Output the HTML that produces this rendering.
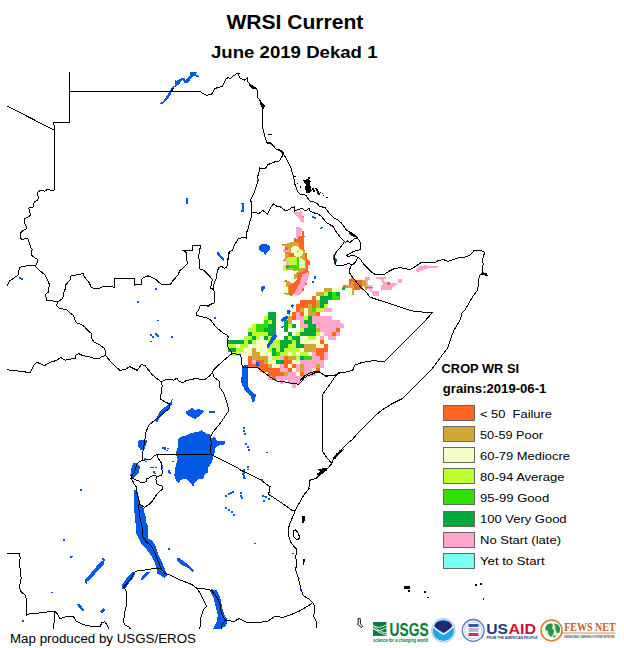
<!DOCTYPE html>
<html><head><meta charset="utf-8"><style>
html,body{margin:0;padding:0;background:#fff;}
body{width:624px;height:648px;position:relative;overflow:hidden;font-family:"Liberation Sans",sans-serif;color:#000;}
.t{position:absolute;white-space:nowrap;}
.box{position:absolute;left:443px;width:30px;height:14px;border:1px solid #686868;}
.lab{position:absolute;left:480px;font-size:12.5px;letter-spacing:0.6px;white-space:nowrap;line-height:16px;}
svg{position:absolute;left:0;top:0;}
</style></head><body>
<svg width="624" height="648" viewBox="0 0 624 648">
<defs><clipPath id="c"><rect x="7" y="71" width="617" height="558"/></clipPath></defs>
<g clip-path="url(#c)" shape-rendering="crispEdges">
<path d="M294.1,212.4 L296.0,212.0 L301.8,211.1 L302.1,216.5 L303.7,216.9 L304.0,222.6 L300.5,222.3 L299.9,219.7 L299.2,218.5 L296.3,215.3 L294.4,213.7Z" fill="#ffa5ce"/>
<path d="M302.1,215.9 L304.0,215.9 L304.0,217.2 L302.1,217.2Z" fill="#ff6420"/>
<path d="M296.0,227.1 L302.1,227.8 L302.1,231.0 L299.2,237.7 L296.7,238.3 L296.0,237.0Z" fill="#ffa5ce"/>
<path d="M302.1,230.6 L304.0,230.6 L304.0,235.8 L305.0,236.7 L304.0,238.3 L304.0,245.0 L299.2,245.0 L298.9,242.2 L297.0,242.2 L297.0,243.5 L294.7,243.5 L294.1,238.3 L297.0,238.7 L299.2,236.4 L302.1,235.8Z" fill="#ff6420"/>
<path d="M282.1,244.5 L287.8,244.2 L291.0,242.2 L293.9,241.9 L293.9,240.0 L303.8,240.0 L303.8,249.0 L305.1,250.3 L305.1,253.1 L306.7,253.1 L307.0,258.3 L309.9,261.2 L309.9,265.0 L307.7,265.6 L307.7,269.5 L309.7,273.0 L307.7,279.4 L306.9,283.4 L304.5,286.6 L303.7,290.6 L299.6,294.6 L298.0,295.8 L294.0,293.8 L291.6,295.8 L289.2,295.4 L286.0,294.6 L283.2,293.0 L283.2,281.8 L286.0,280.2 L290.8,282.6 L293.2,283.4 L296.4,280.2 L297.6,277.0 L296.0,274.0 L298.8,271.0 L294.0,270.6 L286.0,270.0 L283.2,270.6 L283.0,261.2 L285.3,258.0 L285.3,252.8 L283.0,251.5 L283.0,249.9 L285.3,249.0 L284.6,246.4 L282.1,245.4Z" fill="#ff6420"/>
<path d="M286.2,243.8 L291.0,242.2 L296.8,242.2 L299.0,243.8 L299.7,248.3 L303.2,249.3 L304.8,251.2 L304.8,258.6 L306.4,260.5 L306.4,268.2 L305.1,270.1 L300.6,270.1 L299.4,272.0 L297.1,274.6 L294.2,278.5 L296.8,274.6 L298.1,270.8 L294.2,270.8 L285.3,268.8 L285.3,253.5 L288.8,252.8 L287.8,248.3 L286.2,246.4Z" fill="#d0a834"/>
<path d="M291.0,248.3 L293.6,246.1 L296.8,245.8 L299.0,247.1 L299.7,249.6 L301.9,250.6 L303.2,252.2 L301.9,255.7 L300.0,256.0 L299.4,257.9 L303.2,259.2 L304.8,261.2 L304.8,267.6 L303.2,268.8 L299.4,268.8 L299.0,257.9 L297.1,256.7 L294.2,256.0 L294.2,253.8 L291.0,252.8Z" fill="#f5ffc5"/>
<path d="M289.1,252.8 L293.6,252.8 L293.6,256.7 L289.1,256.7Z" fill="#ff6420"/>
<path d="M297.1,250.3 L299.0,250.3 L299.0,252.5 L297.1,252.5Z" fill="#beff32"/>
<path d="M285.9,259.2 L288.5,257.0 L296.8,257.0 L297.1,265.0 L285.6,265.3Z" fill="#beff32"/>
<path d="M285.6,265.3 L298.7,265.3 L298.7,268.5 L295.5,268.8 L295.5,270.4 L294.2,270.4 L294.2,268.2 L285.6,268.2Z" fill="#32e000"/>
<path d="M296.8,257.0 L298.8,257.0 L298.8,265.0 L296.8,265.0Z" fill="#32e000"/>
<path d="M286.2,265.6 L288.8,265.6 L288.8,268.2 L286.2,268.2Z" fill="#00aa3a"/>
<path d="M283.0,261.2 L285.9,261.2 L285.6,270.1 L283.0,270.1Z" fill="#f5ffc5"/>
<path d="M283.2,265.0 L286.0,265.0 L286.0,270.6 L283.2,270.6Z" fill="#beff32"/>
<path d="M285.9,261.2 L288.8,261.2 L288.8,264.7 L285.9,264.7Z" fill="#ffa5ce"/>
<path d="M282.4,244.5 L285.9,244.5 L285.9,246.4 L282.4,246.4Z" fill="#ffa5ce"/>
<path d="M283.0,250.3 L288.8,250.3 L288.8,251.9 L283.0,251.9Z" fill="#ffa5ce"/>
<path d="M302.1,274.6 L307.7,272.2 L309.7,273.0 L307.7,279.4 L306.9,283.4 L304.5,286.6 L303.7,290.6 L299.6,294.6 L298.0,295.8 L294.0,293.8 L296.4,289.0 L299.6,283.4Z" fill="#ffa5ce"/>
<path d="M286.0,280.2 L288.4,281.8 L290.8,282.6 L293.2,283.4 L288.4,285.8 L289.2,295.4 L286.0,294.6 L285.6,289.0 L286.0,285.0Z" fill="#d0a834"/>
<path d="M299.2,268.2 L305.3,268.2 L305.3,270.0 L302.0,271.8 L299.2,271.8Z" fill="#d0a834"/>
<path d="M294.0,273.8 L298.0,273.8 L297.0,276.5 L296.0,278.6 L294.5,278.6Z" fill="#d0a834"/>
<path d="M283.2,281.8 L286.0,281.5 L286.0,287.0 L288.4,287.0 L288.4,293.0 L283.2,293.0Z" fill="#f5ffc5"/>
<path d="M304.5,283.0 L306.9,283.0 L306.9,284.6 L304.5,284.6Z" fill="#ff6420"/>
<path d="M302.0,288.2 L303.7,288.2 L303.7,290.6 L302.0,290.6Z" fill="#ff6420"/>
<path d="M299.2,265.0 L305.3,265.0 L305.3,268.2 L299.2,268.2Z" fill="#f5ffc5"/>
<path d="M349.1,279.0 L352.3,278.3 L354.9,280.3 L361.9,280.3 L361.9,288.0 L359.4,289.9 L353.6,289.9 L353.6,288.0 L346.2,288.0 L342.1,287.6 L343.3,285.1 L346.2,285.1 L349.1,284.7Z" fill="#ff6420"/>
<path d="M346.2,285.1 L350.7,285.1 L350.7,282.2 L353.6,282.2 L353.6,283.5 L352.3,284.1 L353.6,286.0 L353.6,295.0 L352.3,295.0 L352.3,288.0 L346.2,288.0Z" fill="#d0a834"/>
<path d="M361.9,279.6 L367.0,279.6 L367.7,289.2 L365.1,289.9 L364.5,286.7 L362.6,286.0 L361.9,282.8Z" fill="#d0a834"/>
<path d="M347.8,288.0 L352.3,288.0 L352.3,295.0 L348.5,295.0Z" fill="#f5ffc5"/>
<path d="M364.5,276.4 L369.6,277.1 L369.9,279.6 L367.7,280.3 L368.3,284.7 L371.5,285.4 L372.8,287.9 L372.2,291.2 L374.1,293.1 L375.0,294.4 L373.5,295.6 L371.5,291.8 L368.3,289.2 L367.7,289.2Z" fill="#ffa5ce"/>
<path d="M365.0,286.7 L372.8,286.7 L372.8,288.0 L365.0,288.0Z" fill="#ff6420"/>
<path d="M342.0,288.3 L344.6,288.3 L344.6,289.6 L342.0,289.6Z" fill="#00aa3a"/>
<path d="M376.2,277.2 L385.8,277.2 L385.8,278.8 L383.9,279.1 L383.9,281.7 L386.8,282.0 L390.0,283.0 L396.7,283.3 L396.7,284.6 L394.5,286.2 L391.9,287.5 L391.9,289.7 L382.9,290.0 L381.0,290.7 L381.0,285.5 L383.3,284.3 L381.0,280.4 L379.1,278.8 L376.2,278.5Z" fill="#ffa5ce"/>
<path d="M387.1,282.3 L389.7,282.3 L389.7,284.6 L387.1,284.6Z" fill="#ff6420"/>
<path d="M398.0,279.1 L401.9,279.1 L401.9,282.7 L398.0,282.7Z" fill="#ffa5ce"/>
<path d="M373.3,291.3 L378.8,291.3 L378.8,295.5 L373.3,295.5Z" fill="#ffa5ce"/>
<path d="M416.0,269.5 L419.0,266.5 L425.0,265.3 L437.7,266.5 L437.7,268.0 L428.0,268.5 L422.0,270.5 L417.0,271.7Z" fill="#ffa5ce"/>
<path d="M417.0,268.0 L420.0,268.0 L420.0,271.5 L417.0,271.5Z" fill="#ffa5ce"/>
<path d="M340.0,322.8 L342.0,322.8 L342.0,327.3 L340.0,327.3Z" fill="#ffa5ce"/>
<rect x="324" y="288" width="4" height="4" fill="#d0a834"/>
<rect x="328" y="288" width="4" height="4" fill="#d0a834"/>
<rect x="332" y="288" width="4" height="4" fill="#f5ffc5"/>
<rect x="336" y="288" width="4" height="4" fill="#f5ffc5"/>
<rect x="316" y="292" width="4" height="4" fill="#d0a834"/>
<rect x="320" y="292" width="4" height="4" fill="#d0a834"/>
<rect x="324" y="292" width="4" height="4" fill="#beff32"/>
<rect x="328" y="292" width="4" height="4" fill="#00aa3a"/>
<rect x="332" y="292" width="4" height="4" fill="#32e000"/>
<rect x="336" y="292" width="4" height="4" fill="#00aa3a"/>
<rect x="312" y="296" width="4" height="4" fill="#ff6420"/>
<rect x="316" y="296" width="4" height="4" fill="#f5ffc5"/>
<rect x="320" y="296" width="4" height="4" fill="#00aa3a"/>
<rect x="324" y="296" width="4" height="4" fill="#00aa3a"/>
<rect x="328" y="296" width="4" height="4" fill="#00aa3a"/>
<rect x="332" y="296" width="4" height="4" fill="#32e000"/>
<rect x="336" y="296" width="4" height="4" fill="#32e000"/>
<rect x="300" y="300" width="4" height="4" fill="#ff6420"/>
<rect x="304" y="300" width="4" height="4" fill="#ff6420"/>
<rect x="308" y="300" width="4" height="4" fill="#ff6420"/>
<rect x="312" y="300" width="4" height="4" fill="#ff6420"/>
<rect x="316" y="300" width="4" height="4" fill="#d0a834"/>
<rect x="320" y="300" width="4" height="4" fill="#00aa3a"/>
<rect x="324" y="300" width="4" height="4" fill="#00aa3a"/>
<rect x="296" y="304" width="4" height="4" fill="#ff6420"/>
<rect x="300" y="304" width="4" height="4" fill="#ff6420"/>
<rect x="304" y="304" width="4" height="4" fill="#ff6420"/>
<rect x="308" y="304" width="4" height="4" fill="#d0a834"/>
<rect x="312" y="304" width="4" height="4" fill="#ff6420"/>
<rect x="316" y="304" width="4" height="4" fill="#d0a834"/>
<rect x="320" y="304" width="4" height="4" fill="#00aa3a"/>
<rect x="324" y="304" width="4" height="4" fill="#beff32"/>
<rect x="296" y="308" width="4" height="4" fill="#ff6420"/>
<rect x="300" y="308" width="4" height="4" fill="#d0a834"/>
<rect x="304" y="308" width="4" height="4" fill="#f5ffc5"/>
<rect x="308" y="308" width="4" height="4" fill="#d0a834"/>
<rect x="312" y="308" width="4" height="4" fill="#32e000"/>
<rect x="316" y="308" width="4" height="4" fill="#beff32"/>
<rect x="320" y="308" width="4" height="4" fill="#beff32"/>
<rect x="324" y="308" width="4" height="4" fill="#ffa5ce"/>
<rect x="328" y="308" width="4" height="4" fill="#ffa5ce"/>
<rect x="268" y="312" width="4" height="4" fill="#00aa3a"/>
<rect x="272" y="312" width="4" height="4" fill="#00aa3a"/>
<rect x="292" y="312" width="4" height="4" fill="#ff6420"/>
<rect x="296" y="312" width="4" height="4" fill="#ffa5ce"/>
<rect x="300" y="312" width="4" height="4" fill="#ff6420"/>
<rect x="304" y="312" width="4" height="4" fill="#f5ffc5"/>
<rect x="308" y="312" width="4" height="4" fill="#d0a834"/>
<rect x="312" y="312" width="4" height="4" fill="#d0a834"/>
<rect x="316" y="312" width="4" height="4" fill="#ff6420"/>
<rect x="264" y="316" width="4" height="4" fill="#beff32"/>
<rect x="268" y="316" width="4" height="4" fill="#00aa3a"/>
<rect x="272" y="316" width="4" height="4" fill="#00aa3a"/>
<rect x="288" y="316" width="4" height="4" fill="#d0a834"/>
<rect x="292" y="316" width="4" height="4" fill="#ff6420"/>
<rect x="296" y="316" width="4" height="4" fill="#ffa5ce"/>
<rect x="300" y="316" width="4" height="4" fill="#ffa5ce"/>
<rect x="304" y="316" width="4" height="4" fill="#beff32"/>
<rect x="308" y="316" width="4" height="4" fill="#00aa3a"/>
<rect x="312" y="316" width="4" height="4" fill="#ffa5ce"/>
<rect x="316" y="316" width="4" height="4" fill="#ffa5ce"/>
<rect x="320" y="316" width="4" height="4" fill="#ffa5ce"/>
<rect x="324" y="316" width="4" height="4" fill="#ffa5ce"/>
<rect x="328" y="316" width="4" height="4" fill="#ffa5ce"/>
<rect x="264" y="320" width="4" height="4" fill="#32e000"/>
<rect x="268" y="320" width="4" height="4" fill="#beff32"/>
<rect x="272" y="320" width="4" height="4" fill="#00aa3a"/>
<rect x="284" y="320" width="4" height="4" fill="#00aa3a"/>
<rect x="288" y="320" width="4" height="4" fill="#d0a834"/>
<rect x="300" y="320" width="4" height="4" fill="#ffa5ce"/>
<rect x="304" y="320" width="4" height="4" fill="#00aa3a"/>
<rect x="308" y="320" width="4" height="4" fill="#00aa3a"/>
<rect x="312" y="320" width="4" height="4" fill="#ffa5ce"/>
<rect x="316" y="320" width="4" height="4" fill="#ffa5ce"/>
<rect x="320" y="320" width="4" height="4" fill="#ffa5ce"/>
<rect x="324" y="320" width="4" height="4" fill="#ffa5ce"/>
<rect x="328" y="320" width="4" height="4" fill="#ffa5ce"/>
<rect x="332" y="320" width="4" height="4" fill="#ffa5ce"/>
<rect x="336" y="320" width="4" height="4" fill="#ffa5ce"/>
<rect x="252" y="324" width="4" height="4" fill="#beff32"/>
<rect x="256" y="324" width="4" height="4" fill="#32e000"/>
<rect x="260" y="324" width="4" height="4" fill="#32e000"/>
<rect x="264" y="324" width="4" height="4" fill="#32e000"/>
<rect x="268" y="324" width="4" height="4" fill="#00aa3a"/>
<rect x="272" y="324" width="4" height="4" fill="#00aa3a"/>
<rect x="284" y="324" width="4" height="4" fill="#00aa3a"/>
<rect x="288" y="324" width="4" height="4" fill="#beff32"/>
<rect x="292" y="324" width="4" height="4" fill="#00aa3a"/>
<rect x="300" y="324" width="4" height="4" fill="#ffa5ce"/>
<rect x="304" y="324" width="4" height="4" fill="#ffa5ce"/>
<rect x="308" y="324" width="4" height="4" fill="#00aa3a"/>
<rect x="312" y="324" width="4" height="4" fill="#00aa3a"/>
<rect x="316" y="324" width="4" height="4" fill="#ffa5ce"/>
<rect x="320" y="324" width="4" height="4" fill="#ffa5ce"/>
<rect x="324" y="324" width="4" height="4" fill="#ffa5ce"/>
<rect x="328" y="324" width="4" height="4" fill="#ffa5ce"/>
<rect x="332" y="324" width="4" height="4" fill="#ffa5ce"/>
<rect x="336" y="324" width="4" height="4" fill="#ffa5ce"/>
<rect x="340" y="324" width="4" height="4" fill="#ffa5ce"/>
<rect x="248" y="328" width="4" height="4" fill="#beff32"/>
<rect x="252" y="328" width="4" height="4" fill="#beff32"/>
<rect x="256" y="328" width="4" height="4" fill="#32e000"/>
<rect x="260" y="328" width="4" height="4" fill="#32e000"/>
<rect x="264" y="328" width="4" height="4" fill="#00aa3a"/>
<rect x="268" y="328" width="4" height="4" fill="#00aa3a"/>
<rect x="272" y="328" width="4" height="4" fill="#00aa3a"/>
<rect x="284" y="328" width="4" height="4" fill="#00aa3a"/>
<rect x="300" y="328" width="4" height="4" fill="#beff32"/>
<rect x="304" y="328" width="4" height="4" fill="#00aa3a"/>
<rect x="308" y="328" width="4" height="4" fill="#00aa3a"/>
<rect x="312" y="328" width="4" height="4" fill="#00aa3a"/>
<rect x="316" y="328" width="4" height="4" fill="#d0a834"/>
<rect x="320" y="328" width="4" height="4" fill="#ffa5ce"/>
<rect x="324" y="328" width="4" height="4" fill="#ffa5ce"/>
<rect x="328" y="328" width="4" height="4" fill="#ffa5ce"/>
<rect x="332" y="328" width="4" height="4" fill="#ffa5ce"/>
<rect x="336" y="328" width="4" height="4" fill="#ff6420"/>
<rect x="248" y="332" width="4" height="4" fill="#00aa3a"/>
<rect x="252" y="332" width="4" height="4" fill="#beff32"/>
<rect x="256" y="332" width="4" height="4" fill="#beff32"/>
<rect x="260" y="332" width="4" height="4" fill="#beff32"/>
<rect x="264" y="332" width="4" height="4" fill="#beff32"/>
<rect x="268" y="332" width="4" height="4" fill="#00aa3a"/>
<rect x="272" y="332" width="4" height="4" fill="#00aa3a"/>
<rect x="288" y="332" width="4" height="4" fill="#00aa3a"/>
<rect x="292" y="332" width="4" height="4" fill="#f5ffc5"/>
<rect x="296" y="332" width="4" height="4" fill="#beff32"/>
<rect x="300" y="332" width="4" height="4" fill="#00aa3a"/>
<rect x="304" y="332" width="4" height="4" fill="#00aa3a"/>
<rect x="308" y="332" width="4" height="4" fill="#00aa3a"/>
<rect x="312" y="332" width="4" height="4" fill="#00aa3a"/>
<rect x="316" y="332" width="4" height="4" fill="#beff32"/>
<rect x="320" y="332" width="4" height="4" fill="#f5ffc5"/>
<rect x="324" y="332" width="4" height="4" fill="#ffa5ce"/>
<rect x="328" y="332" width="4" height="4" fill="#ffa5ce"/>
<rect x="332" y="332" width="4" height="4" fill="#ff6420"/>
<rect x="336" y="332" width="4" height="4" fill="#ffa5ce"/>
<rect x="244" y="336" width="4" height="4" fill="#beff32"/>
<rect x="248" y="336" width="4" height="4" fill="#beff32"/>
<rect x="252" y="336" width="4" height="4" fill="#00aa3a"/>
<rect x="256" y="336" width="4" height="4" fill="#beff32"/>
<rect x="260" y="336" width="4" height="4" fill="#f5ffc5"/>
<rect x="264" y="336" width="4" height="4" fill="#00aa3a"/>
<rect x="268" y="336" width="4" height="4" fill="#beff32"/>
<rect x="272" y="336" width="4" height="4" fill="#beff32"/>
<rect x="284" y="336" width="4" height="4" fill="#00aa3a"/>
<rect x="288" y="336" width="4" height="4" fill="#beff32"/>
<rect x="292" y="336" width="4" height="4" fill="#00aa3a"/>
<rect x="296" y="336" width="4" height="4" fill="#00aa3a"/>
<rect x="300" y="336" width="4" height="4" fill="#f5ffc5"/>
<rect x="304" y="336" width="4" height="4" fill="#f5ffc5"/>
<rect x="308" y="336" width="4" height="4" fill="#beff32"/>
<rect x="312" y="336" width="4" height="4" fill="#beff32"/>
<rect x="316" y="336" width="4" height="4" fill="#f5ffc5"/>
<rect x="320" y="336" width="4" height="4" fill="#ffa5ce"/>
<rect x="328" y="336" width="4" height="4" fill="#ffa5ce"/>
<rect x="332" y="336" width="4" height="4" fill="#ffa5ce"/>
<rect x="228" y="340" width="4" height="4" fill="#00aa3a"/>
<rect x="232" y="340" width="4" height="4" fill="#00aa3a"/>
<rect x="236" y="340" width="4" height="4" fill="#00aa3a"/>
<rect x="240" y="340" width="4" height="4" fill="#00aa3a"/>
<rect x="244" y="340" width="4" height="4" fill="#beff32"/>
<rect x="248" y="340" width="4" height="4" fill="#00aa3a"/>
<rect x="252" y="340" width="4" height="4" fill="#beff32"/>
<rect x="256" y="340" width="4" height="4" fill="#f5ffc5"/>
<rect x="260" y="340" width="4" height="4" fill="#f5ffc5"/>
<rect x="264" y="340" width="4" height="4" fill="#f5ffc5"/>
<rect x="268" y="340" width="4" height="4" fill="#beff32"/>
<rect x="272" y="340" width="4" height="4" fill="#beff32"/>
<rect x="276" y="340" width="4" height="4" fill="#beff32"/>
<rect x="280" y="340" width="4" height="4" fill="#00aa3a"/>
<rect x="284" y="340" width="4" height="4" fill="#00aa3a"/>
<rect x="288" y="340" width="4" height="4" fill="#00aa3a"/>
<rect x="292" y="340" width="4" height="4" fill="#beff32"/>
<rect x="296" y="340" width="4" height="4" fill="#00aa3a"/>
<rect x="300" y="340" width="4" height="4" fill="#f5ffc5"/>
<rect x="304" y="340" width="4" height="4" fill="#f5ffc5"/>
<rect x="308" y="340" width="4" height="4" fill="#f5ffc5"/>
<rect x="312" y="340" width="4" height="4" fill="#f5ffc5"/>
<rect x="316" y="340" width="4" height="4" fill="#f5ffc5"/>
<rect x="320" y="340" width="4" height="4" fill="#ff6420"/>
<rect x="228" y="344" width="4" height="4" fill="#beff32"/>
<rect x="232" y="344" width="4" height="4" fill="#beff32"/>
<rect x="236" y="344" width="4" height="4" fill="#f5ffc5"/>
<rect x="240" y="344" width="4" height="4" fill="#beff32"/>
<rect x="244" y="344" width="4" height="4" fill="#beff32"/>
<rect x="248" y="344" width="4" height="4" fill="#f5ffc5"/>
<rect x="252" y="344" width="4" height="4" fill="#f5ffc5"/>
<rect x="256" y="344" width="4" height="4" fill="#f5ffc5"/>
<rect x="260" y="344" width="4" height="4" fill="#f5ffc5"/>
<rect x="264" y="344" width="4" height="4" fill="#f5ffc5"/>
<rect x="268" y="344" width="4" height="4" fill="#beff32"/>
<rect x="272" y="344" width="4" height="4" fill="#beff32"/>
<rect x="276" y="344" width="4" height="4" fill="#beff32"/>
<rect x="280" y="344" width="4" height="4" fill="#00aa3a"/>
<rect x="284" y="344" width="4" height="4" fill="#00aa3a"/>
<rect x="288" y="344" width="4" height="4" fill="#beff32"/>
<rect x="292" y="344" width="4" height="4" fill="#beff32"/>
<rect x="296" y="344" width="4" height="4" fill="#00aa3a"/>
<rect x="300" y="344" width="4" height="4" fill="#00aa3a"/>
<rect x="304" y="344" width="4" height="4" fill="#d0a834"/>
<rect x="308" y="344" width="4" height="4" fill="#d0a834"/>
<rect x="312" y="344" width="4" height="4" fill="#d0a834"/>
<rect x="316" y="344" width="4" height="4" fill="#f5ffc5"/>
<rect x="320" y="344" width="4" height="4" fill="#f5ffc5"/>
<rect x="324" y="344" width="4" height="4" fill="#ff6420"/>
<rect x="228" y="348" width="4" height="4" fill="#00aa3a"/>
<rect x="232" y="348" width="4" height="4" fill="#00aa3a"/>
<rect x="236" y="348" width="4" height="4" fill="#beff32"/>
<rect x="240" y="348" width="4" height="4" fill="#beff32"/>
<rect x="244" y="348" width="4" height="4" fill="#f5ffc5"/>
<rect x="248" y="348" width="4" height="4" fill="#f5ffc5"/>
<rect x="252" y="348" width="4" height="4" fill="#d0a834"/>
<rect x="256" y="348" width="4" height="4" fill="#f5ffc5"/>
<rect x="260" y="348" width="4" height="4" fill="#f5ffc5"/>
<rect x="264" y="348" width="4" height="4" fill="#f5ffc5"/>
<rect x="268" y="348" width="4" height="4" fill="#beff32"/>
<rect x="272" y="348" width="4" height="4" fill="#00aa3a"/>
<rect x="276" y="348" width="4" height="4" fill="#beff32"/>
<rect x="280" y="348" width="4" height="4" fill="#00aa3a"/>
<rect x="284" y="348" width="4" height="4" fill="#beff32"/>
<rect x="288" y="348" width="4" height="4" fill="#beff32"/>
<rect x="292" y="348" width="4" height="4" fill="#beff32"/>
<rect x="296" y="348" width="4" height="4" fill="#beff32"/>
<rect x="300" y="348" width="4" height="4" fill="#f5ffc5"/>
<rect x="304" y="348" width="4" height="4" fill="#d0a834"/>
<rect x="308" y="348" width="4" height="4" fill="#d0a834"/>
<rect x="312" y="348" width="4" height="4" fill="#d0a834"/>
<rect x="316" y="348" width="4" height="4" fill="#ff6420"/>
<rect x="320" y="348" width="4" height="4" fill="#ff6420"/>
<rect x="324" y="348" width="4" height="4" fill="#ff6420"/>
<rect x="232" y="352" width="4" height="4" fill="#beff32"/>
<rect x="236" y="352" width="4" height="4" fill="#beff32"/>
<rect x="240" y="352" width="4" height="4" fill="#f5ffc5"/>
<rect x="244" y="352" width="4" height="4" fill="#f5ffc5"/>
<rect x="248" y="352" width="4" height="4" fill="#f5ffc5"/>
<rect x="252" y="352" width="4" height="4" fill="#d0a834"/>
<rect x="256" y="352" width="4" height="4" fill="#d0a834"/>
<rect x="260" y="352" width="4" height="4" fill="#f5ffc5"/>
<rect x="264" y="352" width="4" height="4" fill="#f5ffc5"/>
<rect x="268" y="352" width="4" height="4" fill="#f5ffc5"/>
<rect x="272" y="352" width="4" height="4" fill="#00aa3a"/>
<rect x="276" y="352" width="4" height="4" fill="#32e000"/>
<rect x="280" y="352" width="4" height="4" fill="#beff32"/>
<rect x="284" y="352" width="4" height="4" fill="#beff32"/>
<rect x="288" y="352" width="4" height="4" fill="#f5ffc5"/>
<rect x="292" y="352" width="4" height="4" fill="#beff32"/>
<rect x="296" y="352" width="4" height="4" fill="#f5ffc5"/>
<rect x="300" y="352" width="4" height="4" fill="#beff32"/>
<rect x="304" y="352" width="4" height="4" fill="#beff32"/>
<rect x="308" y="352" width="4" height="4" fill="#f5ffc5"/>
<rect x="312" y="352" width="4" height="4" fill="#ffa5ce"/>
<rect x="316" y="352" width="4" height="4" fill="#ff6420"/>
<rect x="320" y="352" width="4" height="4" fill="#ff6420"/>
<rect x="324" y="352" width="4" height="4" fill="#ffa5ce"/>
<rect x="248" y="356" width="4" height="4" fill="#ff6420"/>
<rect x="252" y="356" width="4" height="4" fill="#d0a834"/>
<rect x="256" y="356" width="4" height="4" fill="#d0a834"/>
<rect x="260" y="356" width="4" height="4" fill="#d0a834"/>
<rect x="264" y="356" width="4" height="4" fill="#d0a834"/>
<rect x="268" y="356" width="4" height="4" fill="#f5ffc5"/>
<rect x="272" y="356" width="4" height="4" fill="#beff32"/>
<rect x="276" y="356" width="4" height="4" fill="#beff32"/>
<rect x="280" y="356" width="4" height="4" fill="#ffa5ce"/>
<rect x="284" y="356" width="4" height="4" fill="#ff6420"/>
<rect x="288" y="356" width="4" height="4" fill="#d0a834"/>
<rect x="292" y="356" width="4" height="4" fill="#d0a834"/>
<rect x="296" y="356" width="4" height="4" fill="#beff32"/>
<rect x="300" y="356" width="4" height="4" fill="#00aa3a"/>
<rect x="304" y="356" width="4" height="4" fill="#32e000"/>
<rect x="308" y="356" width="4" height="4" fill="#32e000"/>
<rect x="312" y="356" width="4" height="4" fill="#ffa5ce"/>
<rect x="316" y="356" width="4" height="4" fill="#ffa5ce"/>
<rect x="320" y="356" width="4" height="4" fill="#ff6420"/>
<rect x="324" y="356" width="4" height="4" fill="#ffa5ce"/>
<rect x="248" y="360" width="4" height="4" fill="#ff6420"/>
<rect x="252" y="360" width="4" height="4" fill="#ffa5ce"/>
<rect x="256" y="360" width="4" height="4" fill="#ff6420"/>
<rect x="260" y="360" width="4" height="4" fill="#ff6420"/>
<rect x="264" y="360" width="4" height="4" fill="#d0a834"/>
<rect x="268" y="360" width="4" height="4" fill="#f5ffc5"/>
<rect x="272" y="360" width="4" height="4" fill="#f5ffc5"/>
<rect x="276" y="360" width="4" height="4" fill="#00aa3a"/>
<rect x="280" y="360" width="4" height="4" fill="#00aa3a"/>
<rect x="284" y="360" width="4" height="4" fill="#ff6420"/>
<rect x="288" y="360" width="4" height="4" fill="#ff6420"/>
<rect x="292" y="360" width="4" height="4" fill="#f5ffc5"/>
<rect x="296" y="360" width="4" height="4" fill="#f5ffc5"/>
<rect x="300" y="360" width="4" height="4" fill="#ffa5ce"/>
<rect x="304" y="360" width="4" height="4" fill="#ffa5ce"/>
<rect x="308" y="360" width="4" height="4" fill="#ffa5ce"/>
<rect x="312" y="360" width="4" height="4" fill="#ffa5ce"/>
<rect x="316" y="360" width="4" height="4" fill="#ffa5ce"/>
<rect x="320" y="360" width="4" height="4" fill="#ffa5ce"/>
<rect x="248" y="364" width="4" height="4" fill="#ff6420"/>
<rect x="252" y="364" width="4" height="4" fill="#ff6420"/>
<rect x="256" y="364" width="4" height="4" fill="#ff6420"/>
<rect x="260" y="364" width="4" height="4" fill="#ff6420"/>
<rect x="264" y="364" width="4" height="4" fill="#ff6420"/>
<rect x="268" y="364" width="4" height="4" fill="#d0a834"/>
<rect x="272" y="364" width="4" height="4" fill="#f5ffc5"/>
<rect x="276" y="364" width="4" height="4" fill="#f5ffc5"/>
<rect x="280" y="364" width="4" height="4" fill="#ffa5ce"/>
<rect x="284" y="364" width="4" height="4" fill="#ff6420"/>
<rect x="288" y="364" width="4" height="4" fill="#f5ffc5"/>
<rect x="292" y="364" width="4" height="4" fill="#ff6420"/>
<rect x="296" y="364" width="4" height="4" fill="#ffa5ce"/>
<rect x="300" y="364" width="4" height="4" fill="#d0a834"/>
<rect x="304" y="364" width="4" height="4" fill="#ffa5ce"/>
<rect x="308" y="364" width="4" height="4" fill="#ffa5ce"/>
<rect x="312" y="364" width="4" height="4" fill="#ffa5ce"/>
<rect x="316" y="364" width="4" height="4" fill="#d0a834"/>
<rect x="320" y="364" width="4" height="4" fill="#ffa5ce"/>
<rect x="260" y="368" width="4" height="4" fill="#ff6420"/>
<rect x="264" y="368" width="4" height="4" fill="#ff6420"/>
<rect x="268" y="368" width="4" height="4" fill="#ff6420"/>
<rect x="272" y="368" width="4" height="4" fill="#ff6420"/>
<rect x="276" y="368" width="4" height="4" fill="#ff6420"/>
<rect x="280" y="368" width="4" height="4" fill="#ffa5ce"/>
<rect x="284" y="368" width="4" height="4" fill="#ffa5ce"/>
<rect x="288" y="368" width="4" height="4" fill="#ff6420"/>
<rect x="292" y="368" width="4" height="4" fill="#f5ffc5"/>
<rect x="296" y="368" width="4" height="4" fill="#ffa5ce"/>
<rect x="300" y="368" width="4" height="4" fill="#d0a834"/>
<rect x="304" y="368" width="4" height="4" fill="#ffa5ce"/>
<rect x="308" y="368" width="4" height="4" fill="#ffa5ce"/>
<rect x="312" y="368" width="4" height="4" fill="#f5ffc5"/>
<rect x="316" y="368" width="4" height="4" fill="#ff6420"/>
<rect x="268" y="372" width="4" height="4" fill="#ff6420"/>
<rect x="272" y="372" width="4" height="4" fill="#ff6420"/>
<rect x="276" y="372" width="4" height="4" fill="#ff6420"/>
<rect x="280" y="372" width="4" height="4" fill="#ff6420"/>
<rect x="284" y="372" width="4" height="4" fill="#d0a834"/>
<rect x="288" y="372" width="4" height="4" fill="#ffa5ce"/>
<rect x="292" y="372" width="4" height="4" fill="#ffa5ce"/>
<rect x="296" y="372" width="4" height="4" fill="#f5ffc5"/>
<rect x="300" y="372" width="4" height="4" fill="#ff6420"/>
<rect x="304" y="372" width="4" height="4" fill="#ffa5ce"/>
<rect x="308" y="372" width="4" height="4" fill="#ffa5ce"/>
<rect x="312" y="372" width="4" height="4" fill="#ffa5ce"/>
<rect x="268" y="376" width="4" height="4" fill="#ffa5ce"/>
<rect x="272" y="376" width="4" height="4" fill="#ff6420"/>
<rect x="276" y="376" width="4" height="4" fill="#ffa5ce"/>
<rect x="280" y="376" width="4" height="4" fill="#ffa5ce"/>
<rect x="284" y="376" width="4" height="4" fill="#ffa5ce"/>
<rect x="288" y="376" width="4" height="4" fill="#ffa5ce"/>
<rect x="292" y="376" width="4" height="4" fill="#ffa5ce"/>
<rect x="296" y="376" width="4" height="4" fill="#ffa5ce"/>
<rect x="300" y="376" width="4" height="4" fill="#ffa5ce"/>
<rect x="280" y="380" width="4" height="4" fill="#ffa5ce"/>
<rect x="288" y="380" width="4" height="4" fill="#ffa5ce"/>
<rect x="292" y="380" width="4" height="4" fill="#ffa5ce"/>
<rect x="296" y="380" width="4" height="4" fill="#ffa5ce"/>
<rect x="292" y="384" width="4" height="4" fill="#ffa5ce"/>
<path d="M160.2,103.3 L163.0,101.3 L165.0,98.9 L167.0,95.6 L168.2,93.2 L170.2,90.0 L172.2,87.2 L175.0,85.6 L175.4,80.4 L176.6,80.8 L179.0,79.6 L181.4,78.0 L184.6,78.4 L185.4,79.6 L187.0,78.8 L188.7,77.2 L190.3,74.8 L190.3,72.4 L197.5,72.4 L195.9,74.0 L198.7,76.4 L198.3,77.6 L195.9,76.4 L194.3,75.6 L192.7,76.4 L190.3,79.6 L188.7,81.6 L187.0,83.2 L184.6,83.2 L183.8,81.2 L182.6,80.4 L180.6,82.0 L179.0,84.4 L176.6,86.0 L174.2,87.6 L171.8,89.2 L171.4,92.0 L171.0,94.2 L169.2,96.6 L167.6,99.2 L165.2,101.7 L162.6,103.8 L160.6,104.0Z" fill="#005ae6"/>
<path d="M260.0,245.0 L262.0,243.8 L266.0,243.8 L269.5,245.5 L269.9,249.0 L268.5,251.5 L266.5,252.5 L266.0,255.4 L265.0,255.4 L264.0,252.5 L261.0,252.0 L259.0,250.0 L259.0,247.0Z" fill="#005ae6"/>
<path d="M217.0,252.5 L219.0,252.2 L220.0,254.0 L224.4,259.5 L223.5,260.5 L219.0,257.0 L216.7,254.0Z" fill="#005ae6"/>
<path d="M177.6,440.1 L180.8,436.9 L187.2,435.3 L190.4,432.9 L196.9,432.1 L201.7,430.4 L206.5,433.7 L210.5,434.5 L211.3,438.5 L214.5,436.9 L217.7,441.7 L220.9,440.9 L225.7,441.7 L224.1,444.9 L217.7,445.7 L215.3,448.1 L214.5,452.9 L212.9,457.7 L212.1,462.5 L208.1,467.3 L208.1,472.1 L204.9,474.5 L203.3,478.5 L198.5,479.3 L196.9,480.1 L194.5,483.3 L192.9,487.3 L191.3,483.3 L188.0,480.1 L184.8,478.5 L180.8,480.1 L178.4,483.3 L176.0,480.1 L174.4,475.3 L175.2,468.9 L176.0,464.1 L177.6,459.3 L176.0,454.5 L176.8,449.7 L178.4,446.5 L177.6,443.3Z" fill="#005ae6"/>
<path d="M155.6,419.4 L160.4,410.8 L166.2,406.0 L171.0,401.2 L172.9,398.3 L171.9,404.0 L169.0,408.8 L164.2,413.7 L159.4,418.5 L157.5,422.3 L154.6,420.4Z" fill="#005ae6"/>
<path d="M185.4,412.0 L189.0,410.0 L192.0,408.0 L195.0,410.0 L199.0,409.0 L204.6,411.0 L201.0,414.0 L198.0,417.0 L195.0,419.4 L191.0,417.0 L187.0,415.0Z" fill="#005ae6"/>
<path d="M209.4,411.2 L215.3,411.5 L215.3,413.0 L209.4,413.0Z" fill="#005ae6"/>
<path d="M138.0,441.0 L140.0,440.0 L147.6,440.0 L146.0,444.0 L144.0,450.3 L141.0,450.3 L138.5,447.0Z" fill="#005ae6"/>
<path d="M133.0,463.0 L136.0,463.0 L139.9,466.0 L139.0,472.0 L136.0,476.0 L133.0,478.5 L130.3,476.0 L131.0,470.0Z" fill="#005ae6"/>
<path d="M133.8,490.0 L134.0,500.0 L134.0,508.0 L134.8,516.0 L135.6,524.0 L135.6,532.0 L138.0,536.9 L141.3,543.3 L146.9,549.7 L151.7,556.1 L154.9,562.5 L156.5,568.9 L157.3,573.7 L164.5,577.7 L167.7,575.3 L165.3,570.5 L162.9,564.1 L159.7,557.7 L157.3,551.3 L155.7,546.5 L152.5,540.9 L148.5,538.5 L147.7,532.1 L148.5,527.2 L146.1,522.4 L146.1,517.6 L144.5,512.8 L143.7,508.0 L140.4,504.8 L139.6,500.0 L138.3,495.0 L137.0,490.0Z" fill="#005ae6"/>
<path d="M132.0,572.0 L135.6,573.0 L133.0,578.0 L129.0,583.0 L125.5,588.0 L122.0,589.7 L122.0,585.0 L126.0,579.0 L129.0,575.0Z" fill="#005ae6"/>
<path d="M140.4,580.0 L143.0,575.0 L146.0,572.0 L150.0,572.5 L147.0,576.0 L142.0,580.0Z" fill="#005ae6"/>
<path d="M176.5,558.5 L179.0,557.7 L182.0,560.0 L186.0,563.0 L190.0,566.0 L194.0,571.0 L192.0,572.0 L188.0,568.0 L182.0,565.0 L178.0,562.0Z" fill="#005ae6"/>
<path d="M211.1,589.1 L216.7,590.2 L220.0,596.9 L222.3,608.1 L224.5,614.9 L227.9,620.5 L225.6,626.1 L221.2,628.8 L213.3,628.8 L216.7,621.6 L217.8,614.9 L215.5,605.9 L213.3,596.9 L209.9,591.3Z" fill="#005ae6"/>
<path d="M242.6,365.6 L247.7,365.1 L247.7,378.5 L248.6,379.4 L247.7,380.4 L248.1,386.9 L250.9,390.6 L252.8,392.4 L255.6,394.3 L255.6,396.1 L254.6,400.7 L252.3,400.7 L250.9,397.0 L249.1,394.3 L246.3,391.9 L244.4,389.6 L241.2,389.2 L244.4,388.7 L242.1,385.0 L241.2,381.3 L241.7,374.8 L242.1,368.3Z" fill="#005ae6"/>
<path d="M276.4,334.5 L274.0,334.0 L271.1,337.9 L269.2,341.7 L266.8,345.6 L267.3,348.0 L269.2,347.5 L271.6,343.7 L274.0,340.8 L276.9,336.9Z" fill="#005ae6"/>
<path d="M291.5,304.5 L293.2,303.8 L293.8,305.5 L293.0,307.7 L291.3,307.2Z" fill="#005ae6"/>
<path d="M287.1,310.0 L290.0,309.9 L290.6,311.5 L289.5,314.7 L287.1,314.0Z" fill="#005ae6"/>
<path d="M285.0,316.5 L287.5,316.0 L288.7,318.0 L287.0,320.0 L284.0,321.0 L282.0,321.8 L281.0,320.0 L282.5,318.0Z" fill="#005ae6"/>
<path d="M282.5,326.0 L283.6,326.5 L282.0,328.8 L281.0,328.0Z" fill="#005ae6"/>
<path d="M256.0,362.5 L258.5,362.0 L259.6,364.0 L258.5,366.7 L256.5,366.0Z" fill="#005ae6"/>
<path d="M261.0,287.5 L263.0,286.0 L265.4,286.5 L264.5,289.0 L262.5,291.7 L261.0,290.5Z" fill="#005ae6"/>
<path d="M333.0,255.0 L334.5,255.0 L335.5,258.0 L337.0,260.0 L336.0,263.5 L334.0,264.0 L333.5,260.0Z" fill="#005ae6"/>
<path d="M100.0,562.1 L104.8,559.2 L103.8,565.0 L100.0,568.8 L95.2,573.7 L92.3,577.5 L87.5,581.3 L86.5,584.2 L84.6,581.3 L85.6,578.5 L90.4,574.6 L92.3,570.8 L95.2,567.9Z" fill="#005ae6"/>
<path d="M77.0,604.4 L80.0,604.4 L82.0,607.0 L84.6,610.0 L83.0,611.2 L79.0,608.0Z" fill="#005ae6"/>
<path d="M103.0,608.3 L105.8,608.8 L103.0,613.1 L100.0,612.0Z" fill="#005ae6"/>
<path d="M186,197.5 h2 v6 h-2z M241,202.5 h2.6 v9 h-2.6 v-1.3 h1.3 v-6.4 h-1.3z" fill="#005ae6"/>
<rect x="214.3" y="317.0" width="2" height="1.6" fill="#005ae6"/>
<rect x="19.0" y="277.2" width="2" height="1.6" fill="#005ae6"/>
<rect x="20.5" y="278.0" width="2" height="1.6" fill="#005ae6"/>
<rect x="147.0" y="274.6" width="2" height="1.6" fill="#005ae6"/>
<rect x="136.8" y="300.9" width="2" height="1.6" fill="#005ae6"/>
<rect x="155.4" y="288.1" width="2" height="1.6" fill="#005ae6"/>
<rect x="156.7" y="319.7" width="2" height="1.6" fill="#005ae6"/>
<rect x="156.0" y="334.2" width="2" height="1.6" fill="#005ae6"/>
<rect x="150.0" y="340.7" width="2" height="1.6" fill="#005ae6"/>
<rect x="312.0" y="216.2" width="2" height="1.6" fill="#005ae6"/>
<rect x="313.5" y="217.2" width="2" height="1.6" fill="#005ae6"/>
<rect x="320.0" y="227.7" width="2" height="1.6" fill="#005ae6"/>
<rect x="321.0" y="226.7" width="2" height="1.6" fill="#005ae6"/>
<rect x="314.0" y="275.7" width="2" height="1.6" fill="#005ae6"/>
<rect x="314.0" y="277.2" width="2" height="1.6" fill="#005ae6"/>
<rect x="311.8" y="281.4" width="2" height="1.6" fill="#005ae6"/>
<rect x="257.0" y="363.2" width="2" height="1.6" fill="#005ae6"/>
<rect x="257.0" y="364.7" width="2" height="1.6" fill="#005ae6"/>
<rect x="256.5" y="362.2" width="2" height="1.6" fill="#005ae6"/>
<rect x="150.0" y="334.2" width="2" height="1.6" fill="#005ae6"/>
<rect x="152.0" y="336.2" width="2" height="1.6" fill="#005ae6"/>
<rect x="154.8" y="333.2" width="2" height="1.6" fill="#005ae6"/>
<rect x="156.8" y="335.2" width="2" height="1.6" fill="#005ae6"/>
<rect x="170.7" y="336.4" width="2" height="1.6" fill="#005ae6"/>
<rect x="243.0" y="427.2" width="2" height="1.6" fill="#005ae6"/>
<rect x="243.3" y="430.2" width="2" height="1.6" fill="#005ae6"/>
<rect x="243.5" y="433.2" width="2" height="1.6" fill="#005ae6"/>
<rect x="245.0" y="443.2" width="2" height="1.6" fill="#005ae6"/>
<rect x="246.5" y="446.2" width="2" height="1.6" fill="#005ae6"/>
<rect x="248.0" y="449.2" width="2" height="1.6" fill="#005ae6"/>
<rect x="247.0" y="466.2" width="2" height="1.6" fill="#005ae6"/>
<rect x="247.0" y="468.7" width="2" height="1.6" fill="#005ae6"/>
<rect x="242.5" y="472.2" width="2" height="1.6" fill="#005ae6"/>
<rect x="243.0" y="475.2" width="2" height="1.6" fill="#005ae6"/>
<rect x="243.6" y="477.7" width="2" height="1.6" fill="#005ae6"/>
<rect x="225.0" y="495.2" width="2" height="1.6" fill="#005ae6"/>
<rect x="228.0" y="493.2" width="2" height="1.6" fill="#005ae6"/>
<rect x="230.0" y="492.2" width="2" height="1.6" fill="#005ae6"/>
<rect x="232.0" y="491.2" width="2" height="1.6" fill="#005ae6"/>
<rect x="239.5" y="492.2" width="2" height="1.6" fill="#005ae6"/>
<rect x="240.0" y="495.2" width="2" height="1.6" fill="#005ae6"/>
<rect x="240.5" y="497.2" width="2" height="1.6" fill="#005ae6"/>
<rect x="252.0" y="400.2" width="2" height="1.6" fill="#005ae6"/>
<rect x="162.0" y="447.2" width="2" height="1.6" fill="#005ae6"/>
<rect x="164.0" y="448.7" width="2" height="1.6" fill="#005ae6"/>
<rect x="166.0" y="449.7" width="2" height="1.6" fill="#005ae6"/>
<rect x="167.5" y="471.2" width="2" height="1.6" fill="#005ae6"/>
<rect x="265.7" y="451.5" width="2" height="1.6" fill="#005ae6"/>
<rect x="260.5" y="478.9" width="2" height="1.6" fill="#005ae6"/>
<rect x="264.4" y="495.6" width="2" height="1.6" fill="#005ae6"/>
<rect x="263.0" y="500.2" width="2" height="1.6" fill="#005ae6"/>
<rect x="253.6" y="542.5" width="2" height="1.6" fill="#005ae6"/>
<rect x="292.0" y="552.8" width="2" height="1.6" fill="#005ae6"/>
<rect x="297.7" y="577.7" width="2" height="1.6" fill="#005ae6"/>
<rect x="300.3" y="589.2" width="2" height="1.6" fill="#005ae6"/>
<rect x="262.0" y="495.2" width="2" height="1.6" fill="#005ae6"/>
<rect x="265.0" y="496.2" width="2" height="1.6" fill="#005ae6"/>
<rect x="268.0" y="498.2" width="2" height="1.6" fill="#005ae6"/>
<rect x="242.0" y="473.2" width="2" height="1.6" fill="#005ae6"/>
<rect x="243.0" y="477.2" width="2" height="1.6" fill="#005ae6"/>
<rect x="225.0" y="507.2" width="2" height="1.6" fill="#005ae6"/>
<rect x="228.0" y="509.2" width="2" height="1.6" fill="#005ae6"/>
<rect x="231.0" y="511.2" width="2" height="1.6" fill="#005ae6"/>
<rect x="233.0" y="514.2" width="2" height="1.6" fill="#005ae6"/>
<rect x="167.5" y="548.2" width="2" height="1.6" fill="#005ae6"/>
<rect x="80.4" y="488.9" width="2" height="1.6" fill="#005ae6"/>
<rect x="62.9" y="539.5" width="2" height="1.6" fill="#005ae6"/>
<rect x="70.7" y="555.6" width="2" height="1.6" fill="#005ae6"/>
<rect x="102.3" y="558.2" width="2" height="1.6" fill="#005ae6"/>
<rect x="70.2" y="556.2" width="2" height="1.6" fill="#005ae6"/>
<rect x="50.5" y="591.5" width="2" height="1.6" fill="#005ae6"/>
<rect x="22.0" y="620.0" width="2" height="1.6" fill="#005ae6"/>
<rect x="62.5" y="539.2" width="2" height="1.6" fill="#005ae6"/>
<rect x="149.8" y="466.8" width="2" height="1.6" fill="#005ae6"/>
<rect x="152.0" y="466.8" width="2" height="1.6" fill="#005ae6"/>
<rect x="155.0" y="466.8" width="2" height="1.6" fill="#005ae6"/>
<rect x="153.0" y="471.2" width="2" height="1.6" fill="#005ae6"/>
<rect x="154.0" y="472.7" width="2" height="1.6" fill="#005ae6"/>
<rect x="161.0" y="465.2" width="2" height="1.6" fill="#005ae6"/>
<rect x="161.3" y="467.2" width="2" height="1.6" fill="#005ae6"/>
<rect x="168.0" y="470.2" width="2" height="1.6" fill="#005ae6"/>
<rect x="168.8" y="472.2" width="2" height="1.6" fill="#005ae6"/>
<rect x="143.5" y="458.2" width="2" height="1.6" fill="#005ae6"/>
<rect x="144.5" y="460.7" width="2" height="1.6" fill="#005ae6"/>
<rect x="164.0" y="447.2" width="2" height="1.6" fill="#005ae6"/>
<rect x="167.0" y="447.7" width="2" height="1.6" fill="#005ae6"/>
<rect x="172.0" y="460.7" width="2" height="1.6" fill="#005ae6"/>
<rect x="251.5" y="400.7" width="2" height="1.6" fill="#005ae6"/>
<rect x="242.5" y="469.0" width="2" height="1.6" fill="#005ae6"/>
<path d="M69.0,71.5 L69.0,122.0 L54.0,122.0 L54.5,190.3 M69.0,91.3 L200.0,91.3 M7.0,106.0 L54.0,130.0 M54.5,190.3 L50.0,190.0 L47.4,189.2 L44.9,191.3 L40.4,190.3 L37.8,192.2 L37.8,195.4 L38.5,198.0 L37.2,200.5 L34.6,201.8 L33.6,203.7 L33.6,206.9 L31.4,207.2 L28.8,208.2 L29.5,212.0 L30.8,214.6 L28.8,216.5 L25.0,218.5 L24.4,222.3 L25.6,224.9 L26.9,227.4 L25.6,229.4 L23.1,230.6 L20.5,233.2 L20.3,236.4 L21.2,239.0 L23.7,239.0 L25.6,238.3 L28.2,239.2 L28.8,241.5 L30.1,245.4 L30.8,247.9 L32.1,249.2 L31.4,253.1 L31.4,255.1 L34.6,257.7 L37.8,259.6 L37.2,262.8 L35.3,266.0 M35.3,266.0 L30.8,265.1 L25.6,266.0 L19.9,267.3 L18.6,271.8 L17.9,275.6 L15.4,276.9 L12.8,278.8 L9.6,280.8 L7.1,285.3 M35.3,266.0 L39.7,270.5 L44.9,275.0 L48.1,280.8 L49.4,284.6 L48.7,288.5 L48.1,292.3 L45.5,294.2 L46.2,297.4 L46.8,300.6 L52.6,301.0 L58.3,301.3 M80.0,274.4 L83.3,273.5 L84.6,277.3 L87.8,280.5 L89.7,283.7 L91.0,286.9 L93.6,288.2 L99.4,288.2 L102.6,286.7 L112.2,286.7 L114.1,287.2 L115.4,287.2 L114.1,286.9 L114.1,278.6 L134.0,278.6 L134.0,286.3 L134.6,284.4 L141.7,284.4 L141.7,279.2 L144.2,277.3 L148.1,276.0 L150.6,276.7 L155.8,279.4 L161.5,284.5 L170.5,284.5 L172.4,281.3 L177.6,275.5 L180.1,270.4 L183.3,267.8 L187.2,264.0 L186.5,253.1 L184.0,250.5 L182.0,250.3 L192.3,250.3 L192.3,245.4 L200.6,245.4 L200.0,248.6 L198.7,255.6 L199.4,263.3 L200.0,269.1 L203.8,270.4 L207.1,273.6 L210.3,276.8 L212.2,279.4 L211.5,283.8 L210.3,288.3 L212.8,289.0 M212.8,289.0 L214.1,291.5 L214.1,303.1 L210.3,304.4 L208.3,306.3 L205.1,305.0 L200.0,305.6 L198.7,310.0 M229.5,251.8 L227.6,259.5 L226.9,267.2 L224.4,268.5 L221.8,266.5 L219.2,267.2 L217.3,271.0 L216.7,274.9 L216.0,278.7 L214.1,283.8 L213.5,287.7 L212.8,289.0 M251.3,212.4 L251.9,215.6 L250.6,219.5 L249.4,223.3 L248.1,228.5 L246.2,233.6 L246.2,238.1 L243.6,237.4 L238.5,238.5 L235.9,242.6 L233.3,247.7 L232.7,250.3 L229.5,251.5 L228.2,254.1 L228.8,256.7 L227.6,261.8 L226.9,266.9 M283.3,153.8 L281.4,157.7 L279.5,160.9 L275.6,161.5 L273.1,162.8 L270.5,163.5 L267.9,164.7 L265.4,168.6 L261.5,168.6 L259.6,167.9 L259.0,171.8 L258.3,175.0 L257.1,176.9 L258.3,179.5 L255.1,190.0 L252.6,196.4 L250.6,199.6 L251.3,202.8 L251.3,212.4 M251.3,212.4 L255.1,212.8 L259.0,213.3 L262.8,210.5 L265.4,212.4 L267.3,214.4 L270.5,207.9 L273.7,203.5 L276.3,206.0 L280.0,206.7 L285.0,210.4 L288.8,209.9 L291.7,207.5 L294.1,207.0 L294.6,211.3 L298.5,209.4 L302.3,208.5 L305.2,210.9 L307.1,209.9 L309.0,208.5 L310.0,210.9 L313.8,212.8 L318.7,214.2 L321.1,216.2 L323.5,219.0 L326.3,222.4 L329.2,224.3 L332.1,225.8 L334.0,227.7 L335.4,230.8 L339.2,235.9 L343.7,241.0 L345.6,242.3 L347.6,241.0 L350.1,243.0 L351.4,241.0 L354.0,239.1 L357.2,237.8 M200.0,91.2 L202.9,93.7 L206.7,95.2 L211.5,94.2 L213.5,91.7 L214.4,88.8 L218.3,87.3 L222.1,86.5 L224.0,83.1 L226.0,79.2 L227.9,77.7 L230.8,78.3 L232.7,76.3 L235.6,74.4 L237.5,73.1 L239.4,73.1 L238.5,75.4 L240.4,78.3 L244.2,80.2 L247.1,78.3 L247.1,81.2 L250.0,84.0 L253.8,86.9 L256.7,88.8 L257.7,92.7 L257.7,97.5 L260.6,101.3 L262.8,105.2 L262.8,107.7 L262.8,112.8 L262.2,117.9 L262.8,128.2 L264.1,133.3 L265.4,138.5 L266.7,142.3 L271.2,143.6 L273.7,146.2 L276.3,149.4 L279.5,150.6 L283.3,153.8 L285.9,157.7 L288.5,162.8 L291.0,167.9 L292.2,172.9 L293.2,175.8 L294.1,179.6 L294.6,183.5 L296.1,187.3 L297.5,191.2 L299.4,193.6 L301.8,195.0 L304.2,194.5 L306.2,195.5 L307.6,197.9 L309.5,200.8 L311.9,201.7 L314.8,202.2 L317.7,204.1 L319.1,206.1 L322.5,207.0 L325.4,208.0 L327.3,210.4 L329.2,213.3 L332.1,216.2 L334.0,218.1 L337.9,220.0 L340.8,222.4 L343.7,225.8 L345.6,229.5 L349.5,232.0 L353.3,234.0 L357.2,237.8 L359.7,241.0 L361.0,244.9 L360.4,249.4 L357.2,250.6 L353.3,251.3 L350.8,253.2 L348.2,254.5 L346.9,255.8 L348.8,257.0 L350.8,255.1 L354.6,255.8 L357.2,257.0 L359.7,258.3 L361.0,260.3 L363.6,264.1 L367.4,268.0 L371.3,271.8 L375.1,274.4 L384.1,274.4 L389.2,271.2 L394.4,268.6 L400.0,267.7 L406.4,268.5 L408.8,270.0 L412.0,268.5 L416.0,266.0 L420.8,262.9 L425.6,262.1 L434.5,262.9 L438.5,260.4 L443.3,259.6 L448.0,261.3 L452.9,259.6 L457.7,258.0 L464.1,257.2 L468.9,255.6 L472.1,253.2 L473.7,250.8 L476.9,250.0 L481.7,250.8 L484.9,252.4 L483.3,256.4 L482.5,262.0 L483.3,263.7 L482.5,268.5 L482.5,272.5 L484.9,273.3 L486.5,274.9 L481.7,274.0 L479.3,275.7 L478.5,281.3 L477.7,290.0 L474.5,294.1 L471.3,298.9 L468.1,304.5 L464.9,310.1 L461.7,313.3 L460.9,318.1 L460.0,320.3 L453.8,330.5 L450.0,340.8 L447.4,348.5 L442.3,354.9 L435.9,363.8 L430.8,370.3 L423.1,377.9 L412.8,388.2 L402.6,398.5 L392.3,403.6 L382.0,410.0 L374.4,416.4 L366.7,424.1 L359.0,431.8 L351.3,440.8 L349.7,441.2 L343.7,447.6 L338.5,452.8 L333.7,457.6 L332.0,463.2 L328.0,468.0 L322.4,472.0 L318.4,476.0 L316.0,478.5 L310.4,480.0 L309.2,481.7 L309.6,485.7 L308.4,488.9 L309.0,488.7 L303.8,495.1 L298.7,504.1 L295.6,509.7 L293.0,516.2 L289.2,525.1 L288.0,534.1 L290.5,541.8 L294.4,546.9 L296.9,549.5 L295.6,557.2 L296.9,562.3 L295.6,570.0 L298.2,577.7 L300.8,588.0 L303.3,595.6 L309.7,599.5 L313.6,603.3 L314.9,608.5 L313.6,616.2 L316.2,621.3 L316.2,627.7 M344.4,241.7 L340.5,247.4 L336.7,251.3 L334.7,255.1 L334.7,260.3 L336.0,265.4 L339.2,266.0 L343.1,265.4 L346.9,264.1 L349.5,263.5 L351.4,264.7 L353.3,264.1 L355.9,261.5 L357.2,258.3 M351.4,264.7 L349.6,269.6 L349.6,272.8 L351.5,276.0 L354.1,279.2 L357.3,283.1 L359.9,286.3 L362.4,288.8 L365.6,291.4 L367.6,294.0 L370.1,297.2 L374.0,298.5 L379.7,300.4 L386.2,302.3 L393.8,304.9 L401.5,307.4 L409.2,310.0 L416.0,311.7 L432.5,312.5 L425.6,320.3 L418.0,328.0 L410.3,335.6 L402.6,343.3 L394.9,351.0 L388.5,357.4 L384.6,361.3 L371.8,360.8 L361.5,362.6 L355.1,365.1 L352.6,370.3 L346.2,372.0 L339.7,372.8 L335.9,375.4 L325.6,376.2 L320.5,372.8 L315.4,371.5 L310.3,372.8 L305.1,375.4 L300.0,380.5 M335.9,375.4 L330.8,383.0 L324.4,392.0 L322.6,394.6 L322.6,412.6 L322.6,433.0 L322.6,451.5 L327.0,458.0 L331.5,463.0 L332.0,461.8 M240.5,470.0 L250.0,474.6 L260.3,479.7 L270.0,486.7 L268.7,494.4 L280.3,502.0 L293.0,511.0 L295.6,509.7 M161.3,381.9 L165.2,380.0 L170.0,379.0 L173.8,380.4 L176.7,378.1 L178.7,381.0 L182.5,382.9 L186.3,380.4 L191.2,379.6 L196.9,378.1 L200.8,379.6 L205.6,379.0 L210.4,375.2 L212.3,372.3 M212.3,372.3 L214.2,377.1 L219.0,381.0 L220.0,387.7 L223.8,393.5 L225.8,399.2 L227.7,405.0 L228.7,410.8 L224.8,416.5 L221.0,422.3 L216.2,428.1 L212.9,432.1 L210.5,436.9 L211.3,443.3 L210.5,449.7 L211.3,454.5 M161.3,381.9 L162.3,385.8 L161.3,391.5 L160.4,399.2 L165.2,402.1 L170.0,404.0 L169.0,408.8 L164.2,412.7 L159.4,416.5 L154.6,420.4 L148.8,425.2 L146.0,431.9 L145.0,439.6 L143.1,450.0 M160.0,454.5 L211.3,454.5 M211.3,454.5 L224.1,460.9 L236.9,467.3 L240.5,470.0 M58.3,301.3 L62.8,298.7 L63.5,293.6 L65.4,288.5 L66.0,284.6 L69.9,280.1 L71.2,275.6 L75.6,275.0 L80.0,274.4 M58.3,301.3 L56.4,305.1 L59.0,308.3 L66.7,309.6 L69.9,312.8 L73.7,315.4 L74.4,319.2 L76.9,323.1 L80.1,324.1 L84.6,326.7 L87.2,329.9 L91.3,333.5 L91.3,338.3 L94.2,342.1 L100.0,345.0 L104.8,348.8 L105.8,355.6 M105.8,355.6 L108.7,359.4 L113.5,364.2 L117.3,368.1 L120.0,370.4 L125.8,369.4 L129.6,366.5 L133.5,368.5 L137.3,370.4 L141.2,364.6 L145.0,365.6 L148.8,370.4 L152.7,375.2 L157.5,379.0 L161.3,381.9 M105.8,355.6 L101.9,356.5 L99.0,358.5 L94.2,358.5 L88.5,356.5 L82.7,355.6 L78.8,353.7 L76.0,354.6 L75.0,358.5 L67.3,359.4 L65.4,360.4 L60.6,357.5 L56.7,360.4 L50.0,362.3 L44.2,365.8 L39.4,363.3 L36.5,362.3 L34.6,364.2 L31.7,370.0 L29.8,372.9 L25.0,371.9 L18.3,371.0 L11.5,370.4 L7.3,369.6 M143.1,450.0 L142.4,460.5 M142.4,460.5 L145.6,459.9 L150.8,459.2 L154.6,455.4 L158.5,454.4 L157.2,456.7 L159.7,460.5 L161.7,463.7 L161.0,468.2 L162.9,471.4 L161.7,475.3 L157.2,476.5 L154.6,475.3 L150.8,476.5 L149.5,477.8 L146.9,478.5 L146.9,481.0 L144.4,482.3 L140.5,482.9 L139.2,481.0 L137.3,480.4 L134.1,479.1 L132.2,477.8 L131.5,475.9 L134.1,472.7 L135.4,468.8 L136.7,464.4 L139.2,461.8 L142.4,460.5 M131.5,475.9 L130.9,478.5 L132.8,481.0 L134.1,484.2 L136.7,487.4 L136.7,491.3 L137.9,496.4 L139.2,501.5 L140.4,504.8 L144.5,507.2 L148.5,504.8 L152.1,501.5 L154.6,497.7 L157.2,493.8 L159.7,491.3 L162.3,489.4 L162.3,486.2 L158.5,484.9 L156.5,483.6 L155.9,479.7 L157.2,476.5 M158.5,454.4 L160.0,454.5 M139.2,501.5 L138.8,508.0 L139.6,516.0 L142.1,527.2 L142.9,536.9 L146.1,541.7 L151.7,546.5 L154.9,552.9 L158.1,560.9 L161.3,568.9 L165.3,573.7 L169.3,574.5 M161.3,568.9 L151.7,568.9 L142.1,570.5 L135.9,571.1 L133.7,573.4 L131.4,577.9 L128.0,582.3 L123.6,586.8 L126.9,592.4 L126.9,603.7 L124.7,612.6 L123.6,621.6 L124.7,625.0 L129.2,627.2 L130.3,628.8 M169.3,574.5 L174.1,576.9 L180.5,580.1 L186.9,582.5 L192.0,584.6 L196.5,588.0 M196.5,588.0 L199.8,592.4 L203.2,599.2 L206.6,605.9 L203.2,610.4 L201.0,617.1 L199.8,628.8 M196.5,588.0 L205.5,589.1 L211.1,590.2 L216.7,596.9 L220.0,603.7 L221.2,612.6 L223.4,617.1 L225.6,620.5 L222.3,623.8 L221.2,628.8 M225.6,620.5 L234.1,621.3 L239.2,618.7 L246.9,622.6 L257.2,622.6 L267.4,621.3 L275.1,616.2 L282.8,617.4 L290.5,614.9 L299.5,611.0 L305.9,607.2 L312.3,603.3 M7.3,553.5 L19.2,553.5 L20.2,558.3 L19.2,563.1 L20.2,568.8 L21.2,578.5 L19.2,587.1 L21.2,591.9 L25.0,594.8 L26.9,601.5 L26.0,608.3 L26.9,615.0 L30.8,613.1 L38.5,613.1 L46.2,612.1 L53.8,611.2 L55.8,612.1 L57.7,614.0 L59.6,618.8 L65.4,616.9 L73.1,616.0 L76.0,620.8 L82.7,624.6 L92.3,626.5 L100.0,626.5 L101.9,622.7 L104.8,621.7 L106.7,624.6 L108.7,628.5 M53.8,611.2 L54.8,616.9 L53.8,624.6 L53.8,629.0 M198.7,310.0 L196.4,312.8 L196.4,315.4 L201.5,316.7 L206.7,317.9 L210.5,319.9 L213.1,323.1 L215.6,326.9 L219.5,330.1 L223.3,333.3 L227.2,335.3 L228.5,337.2 L227.2,339.7 L227.2,344.9 L228.5,348.1 L231.0,351.3 L232.3,353.2 M232.3,353.2 L228.5,356.4 L223.3,360.9 L218.2,365.4 L213.1,370.5 L212.3,372.3 M232.3,353.2 L234.9,353.8 L240.0,354.5 L241.3,357.7 L241.3,362.8 L242.6,366.7 L246.4,367.9 L257.9,367.9 L260.0,369.5 L265.1,373.3 L270.3,377.2 L276.7,381.0 L283.1,381.7 L289.5,382.9 L298.5,384.2 L301.0,382.3 L303.6,378.5 L307.4,375.9 L312.6,374.0 L316.4,372.0 L319.0,371.4 L321.5,373.3 L324.1,375.3 L329.2,375.9 L334.4,375.6 L336.9,374.0 L340.0,372.0" fill="none" stroke="#000" stroke-width="1" shape-rendering="crispEdges"/>
<path d="M303.8,180.1 L308.1,179.1 L310.5,181.5 L309.5,184.4 L311,187.3 L311.9,191.2 L309.5,193.1 L306.2,193.1 L305.2,189.2 L305.7,184.4 L304.2,182.5Z" fill="#000"/>
<path d="M302.6,515.6 L305,515.6 L304.6,521 L303,524.6 L302,521Z" fill="#000"/>
<path d="M302.6,559 L305,559.5 L304,565.6 L302.8,564Z" fill="#000"/>
<path d="M403.8,586 L409.6,586 L409.6,588.8 L403.8,588.8Z" fill="#000"/>
<path d="M268,134 L271.8,134 L271.8,135.2 L268,135.2Z" fill="#000"/>
<path d="M170,91.8 L171.6,88.3 L173,87.3 L173.6,88.6 L171.8,92Z" fill="#000"/>
<path d="M259.5,101.5 L264,104.5 L265.2,106.5 L263.5,108.5 L261,106.8Z" fill="#000"/>
<path d="M249,84 L253,86 L256,88.5 L254,89.5 L250,87.2Z" fill="#000"/>
<path d="M277.5,148.6 L281,150 L284,152.8 L280,152Z" fill="#000"/>
<path d="M266.5,141.5 L271,142.5 L272,144.5 L267,143.5Z" fill="#000"/>
<path d="M318,469.2 L320.8,468.8 L324,468 L326.4,468.4 L327.2,470 L324.8,472 L322.4,473.7 L320,475.3 L317.2,475.3 L317.2,473.3 L320,471.6Z" fill="#000"/>
<path d="M333.5,457.5 L336.5,453.5 L338.6,451.6 L339.6,450.2 L340.8,451 L343.7,448.5 L343.9,449.9 L341,452.6 L338,455.6 L335.5,458.6 L334,459Z" fill="#000"/>
<path d="M480.5,273.4 L483,272.4 L486.5,273.4 L486.8,275.8 L485,275.5 L483,274.6 L480.5,275Z" fill="#000"/>
<path d="M349,232 L352,233 L355.5,235 L355,237.2 L352,236.2 L349.5,234Z" fill="#000"/>
<path d="M293.6,531 L296,529.7 L298,533 L300,538 L297,540 L294,537Z" fill="none" stroke="#000" stroke-width="1"/>
<rect x="405.2" y="586.2" width="1.6" height="1.6" fill="#000"/>
<rect x="408.2" y="590.2" width="1.6" height="1.6" fill="#000"/>
<rect x="424.2" y="591.2" width="1.6" height="1.6" fill="#000"/>
<rect x="427.2" y="596.7" width="1.6" height="1.6" fill="#000"/>
<rect x="475.2" y="584.2" width="1.6" height="1.6" fill="#000"/>
<rect x="480.2" y="583.2" width="1.6" height="1.6" fill="#000"/>
<rect x="482.5" y="598.0" width="1.6" height="1.6" fill="#000"/>
<rect x="294.2" y="175.5" width="1.6" height="1.6" fill="#000"/>
<rect x="307.5" y="176.8" width="1.6" height="1.6" fill="#000"/>
<rect x="312.1" y="188.4" width="1.6" height="1.6" fill="#000"/>
<rect x="313.0" y="189.9" width="1.6" height="1.6" fill="#000"/>
<rect x="315.0" y="187.5" width="1.6" height="1.6" fill="#000"/>
<rect x="315.9" y="189.4" width="1.6" height="1.6" fill="#000"/>
<rect x="317.4" y="190.8" width="1.6" height="1.6" fill="#000"/>
<rect x="316.9" y="192.3" width="1.6" height="1.6" fill="#000"/>
<rect x="318.3" y="193.2" width="1.6" height="1.6" fill="#000"/>
<rect x="319.8" y="191.8" width="1.6" height="1.6" fill="#000"/>
<rect x="321.7" y="192.8" width="1.6" height="1.6" fill="#000"/>
<rect x="322.7" y="194.7" width="1.6" height="1.6" fill="#000"/>
<rect x="326.0" y="196.6" width="1.6" height="1.6" fill="#000"/>
<rect x="294.8" y="175.5" width="1.6" height="1.6" fill="#000"/>
<rect x="296.7" y="182.7" width="1.6" height="1.6" fill="#000"/>
<rect x="299.6" y="186.0" width="1.6" height="1.6" fill="#000"/>
<rect x="308.2" y="176.9" width="1.6" height="1.6" fill="#000"/>
<rect x="303.4" y="179.8" width="1.6" height="1.6" fill="#000"/>
<rect x="268.7" y="133.8" width="1.6" height="1.6" fill="#000"/>
<rect x="270.2" y="133.8" width="1.6" height="1.6" fill="#000"/>
</g>
</svg>
<svg width="624" height="648" style="position:absolute;left:0;top:0" font-family="Liberation Sans">
<text x="226.4" y="28.5" font-size="20" font-weight="bold" textLength="137" lengthAdjust="spacingAndGlyphs">WRSI Current</text>
<text x="211" y="57.9" font-size="17.4" font-weight="bold" textLength="166.5" lengthAdjust="spacingAndGlyphs">June 2019 Dekad 1</text>
<text x="441.6" y="373" font-size="13.4" font-weight="bold" textLength="77.5" lengthAdjust="spacingAndGlyphs">CROP WR SI</text>
<text x="442.8" y="392.6" font-size="13.4" font-weight="bold" textLength="103.5" lengthAdjust="spacingAndGlyphs">grains:2019-06-1</text>
<text x="480" y="417.7" font-size="11.5" textLength="72.0" lengthAdjust="spacingAndGlyphs">&lt; 50&nbsp; Failure</text>
<text x="480" y="438.7" font-size="11.5" textLength="63.0" lengthAdjust="spacingAndGlyphs">50-59 Poor</text>
<text x="480" y="459.7" font-size="11.5" textLength="90.0" lengthAdjust="spacingAndGlyphs">60-79 Mediocre</text>
<text x="480" y="480.7" font-size="11.5" textLength="84.4" lengthAdjust="spacingAndGlyphs">80-94 Average</text>
<text x="480" y="501.7" font-size="11.5" textLength="69.2" lengthAdjust="spacingAndGlyphs">95-99 Good</text>
<text x="480" y="522.7" font-size="11.5" textLength="86.6" lengthAdjust="spacingAndGlyphs">100 Very Good</text>
<text x="480" y="543.7" font-size="11.5" textLength="81.0" lengthAdjust="spacingAndGlyphs">No Start (late)</text>
<text x="480" y="564.7" font-size="11.5" textLength="64.6" lengthAdjust="spacingAndGlyphs">Yet to Start</text>
<text x="10" y="642.6" font-size="13" textLength="186" lengthAdjust="spacingAndGlyphs">Map produced by USGS/EROS</text>
</svg>
<div class="box" style="top:405.0px;background:#ff6420"></div>
<div class="box" style="top:426.1px;background:#d0a834"></div>
<div class="box" style="top:447.2px;background:#f5ffc5"></div>
<div class="box" style="top:468.3px;background:#beff32"></div>
<div class="box" style="top:489.4px;background:#32e000"></div>
<div class="box" style="top:510.5px;background:#00aa3a"></div>
<div class="box" style="top:531.6px;background:#ffa5ce"></div>
<div class="box" style="top:552.7px;background:#7afff0"></div>
<svg width="624" height="648" style="position:absolute;left:0;top:0">
<g>
<path d="M358,618.6 L360.3,618.6 L360.5,623.8 L362,625.5 L362.8,626.6 L361,627.6 L359.5,625.6 L357.6,624.6 L357.6,623.4 L358.4,623.2Z" fill="none" stroke="#000" stroke-width="0.9"/>
<rect x="373" y="622" width="13.4" height="13.9" fill="#087a3c"/>
<path d="M373,625.5 C377,628 382,628 386.4,624.5 M373,628.5 C377,632 382,630 386.4,627.8 M373,624.8 C377,630 382,633 386.4,632.5 M373,627.5 C378,632.5 382,634 386.4,634.8" stroke="#fff" stroke-width="0.9" fill="none"/>
<text x="389.6" y="635.9" font-family="Liberation Sans" font-weight="bold" font-size="19" fill="#087a3c" textLength="39" lengthAdjust="spacingAndGlyphs">USGS</text>
<text x="373" y="641.6" font-family="Liberation Sans" font-style="italic" font-weight="bold" font-size="4.8" fill="#087a3c" textLength="55" lengthAdjust="spacingAndGlyphs">science for a changing world</text>
<circle cx="443.4" cy="630.4" r="11.8" fill="#fff" stroke="#a0a4b8" stroke-width="0.8"/>
<circle cx="443.4" cy="630.4" r="10.6" fill="#1ea6ea"/>
<path d="M434.5,625 L437,622 L443,620.8 L449.4,622 L451.9,625 L451.4,628 L447.9,630.4 L443.9,632.9 L439.9,630.4 L435,628Z" fill="#1a2a78"/>
<path d="M433.2,626.5 Q439,632 443.5,634.2 Q448,632 453.6,626.3" stroke="#fff" stroke-width="1.4" fill="none"/>
<circle cx="473.2" cy="630.4" r="10.9" fill="#fff" stroke="#5a7ab8" stroke-width="1.3"/>
<circle cx="473.2" cy="630.4" r="8.6" fill="none" stroke="#9ab0d8" stroke-width="0.7"/>
<rect x="468.3" y="624" width="10.4" height="3" rx="1" fill="#3a5aa8"/>
<path d="M468.5,629 h10 M468.5,631 h10" stroke="#555" stroke-width="0.8"/>
<rect x="468.5" y="633" width="10" height="1.2" fill="#3a5aa8"/>
<rect x="468.5" y="634.2" width="10" height="1.8" fill="#d02040"/>
<text x="486.3" y="633.9" font-family="Liberation Sans" font-weight="bold" font-size="15" fill="#1c3b80" textLength="21.7" lengthAdjust="spacingAndGlyphs">US</text>
<text x="508.4" y="633.9" font-family="Liberation Sans" font-weight="bold" font-size="15" fill="#cc1436" textLength="27.6" lengthAdjust="spacingAndGlyphs">AID</text>
<text x="486.5" y="638.5" font-family="Liberation Sans" font-weight="bold" font-size="3.4" fill="#1c3b80" textLength="51" lengthAdjust="spacingAndGlyphs">FROM THE AMERICAN PEOPLE</text>
<circle cx="551.5" cy="630.4" r="10.5" fill="#fff" stroke="#e0782a" stroke-width="1.5"/>
<circle cx="552.6" cy="630.8" r="7.6" fill="#dfeedd"/>
<path d="M545.2,628 L547,624.5 L551,623.2 L553,625 L552,628 L554,630.5 L553,635 L550.5,637 L548.5,634 L547.5,630 L545.5,630.5Z M554,623.5 L558,624.5 L560.2,628 L559.5,632.5 L557,633 L555.5,629.5 L555,626Z M553,636 L556,635.5 L554,638Z" fill="#2a9440"/>
<rect x="561" y="632.6" width="54.5" height="0.9" fill="#e0782a"/>
<text x="564.2" y="631" font-family="Liberation Serif" font-weight="bold" font-size="12" fill="#bf5f1c" textLength="51.5" lengthAdjust="spacingAndGlyphs">FEWS NET</text>
<text x="564.3" y="637.7" font-family="Liberation Sans" font-weight="bold" font-size="2.6" fill="#6a4a30" textLength="50.5" lengthAdjust="spacingAndGlyphs">FAMINE EARLY WARNING SYSTEMS NETWORK</text>
</g></svg>
</body></html>
